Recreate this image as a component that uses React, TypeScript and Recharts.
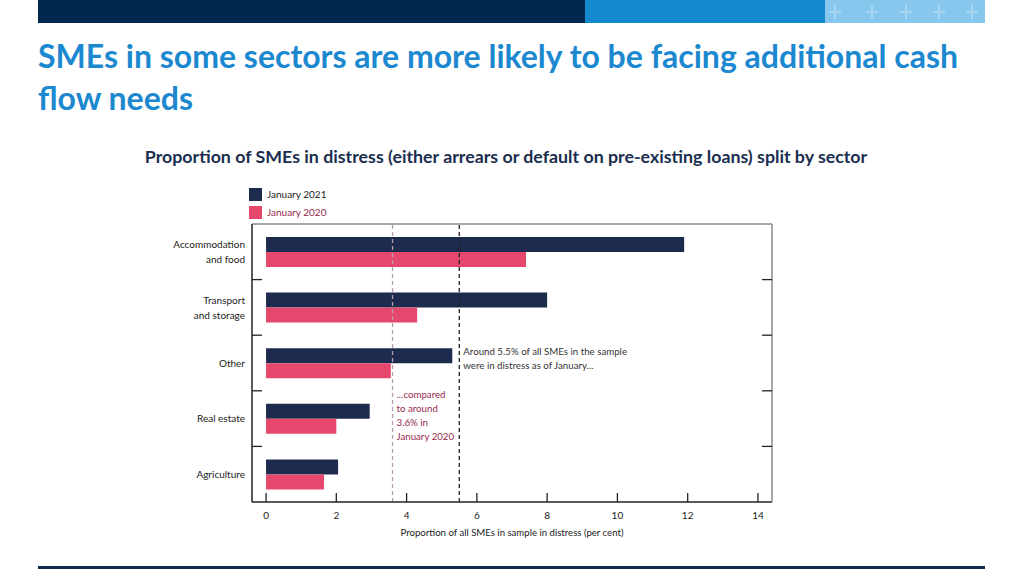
import React from "react";
import {
  BarChart, Bar, XAxis, YAxis, ReferenceLine,
} from "recharts";

// Sectors (top to bottom) and share of SMEs in distress, per cent
const SECTORS = ["Accommodation and food", "Transport and storage", "Other", "Real estate", "Agriculture"];
const JAN_2021 = [11.9, 8.0, 5.3, 2.95, 2.05];
const JAN_2020 = [7.4, 4.3, 3.55, 2.0, 1.65];
const X_TICKS = [0, 2, 4, 6, 8, 10, 12, 14];

const AVG_2021 = 5.5;
const AVG_2020 = 3.6;

const NAVY = "#1c2b4e";
const PINK = "#e5486c";
const MAROON = "#97294d";
const CHART_FONT = "Lato, 'Open Sans', sans-serif";

const data = SECTORS.map((sector, i) => ({
  sector,
  "January 2021": JAN_2021[i],
  "January 2020": JAN_2020[i],
}));

// category label (two lines for long names) + inward tick at the band boundary
function SectorTick({ x, y, payload }: any) {
  const words = String(payload.value).split(" ");
  const lines = words.length > 2 ? [words[0], words.slice(1).join(" ")] : [payload.value];
  const half = payload.offset || 0;
  return (
    <g>
      {payload.index > 0 && half > 0 && (
        <line x1={x} x2={x + 10} y1={y - half} y2={y - half} stroke="#222" strokeWidth={1.3} />
      )}
      <text x={x - 7} y={y} textAnchor="end" fontSize={10} fill="#222" fontFamily={CHART_FONT}>
        {lines.map((l, i) => (
          <tspan key={i} x={x - 7} dy={i === 0 ? (lines.length > 1 ? -3.5 : 3.5) : 15}>{l}</tspan>
        ))}
      </text>
    </g>
  );
}

function RightTick({ x, y, payload }: any) {
  const half = payload.offset || 0;
  if (payload.index === 0 || !half) return null;
  return <line x1={x - 10} x2={x} y1={y - half} y2={y - half} stroke="#222" strokeWidth={1.3} />;
}

function ValueTick({ x, y, payload }: any) {
  return (
    <g>
      <line x1={x} x2={x} y1={y - 9} y2={y} stroke="#222" strokeWidth={1.3} />
      <text x={x} y={y + 17} textAnchor="middle" fontSize={10} fill="#222" fontFamily={CHART_FONT}>
        {payload.value}
      </text>
    </g>
  );
}

function Annotation({ viewBox, lines, top, color }: any) {
  if (!viewBox) return null;
  return (
    <text x={viewBox.x + 4} y={viewBox.y + top} fontSize={9.7} fill={color} fontFamily={CHART_FONT}>
      {lines.map((l: string, i: number) => (
        <tspan key={i} x={viewBox.x + 4} dy={i === 0 ? 0 : 14}>{l}</tspan>
      ))}
    </text>
  );
}

function LegendBox() {
  const items = [
    { label: "January 2021", fill: NAVY, text: "#222" },
    { label: "January 2020", fill: PINK, text: MAROON },
  ];
  return (
    <div style={{ position: "absolute", left: 249, top: 185, fontFamily: CHART_FONT, fontSize: 10 }}>
      {items.map((it) => (
        <div key={it.label} style={{ display: "flex", alignItems: "center", height: 18 }}>
          <span style={{ width: 13, height: 13, background: it.fill, display: "inline-block", marginRight: 5 }} />
          <span style={{ color: it.text }}>{it.label}</span>
        </div>
      ))}
    </div>
  );
}

function Crosses() {
  const xs = [10, 47, 81, 114, 147];
  return (
    <svg width={160} height={23} style={{ position: "absolute", left: 0, top: 0 }}>
      {xs.map((cx) => (
        <g key={cx} stroke="#a8d5f2" strokeWidth={2}>
          <line x1={cx - 6} x2={cx + 6} y1={12} y2={12} />
          <line x1={cx} x2={cx} y1={5} y2={19} />
        </g>
      ))}
    </svg>
  );
}

export default function App() {
  return (
    <div style={{ position: "absolute", left: 0, top: 0, width: 1024, height: 576, background: "#fff", overflow: "hidden" }}>
      <div style={{ position: "absolute", left: 38, top: 0, width: 547, height: 23, background: "#00284f" }} />
      <div style={{ position: "absolute", left: 585, top: 0, width: 240, height: 23, background: "#1589cd" }} />
      <div style={{ position: "absolute", left: 825, top: 0, width: 160, height: 23, background: "#87c6ed" }}>
        <Crosses />
      </div>

      <div style={{
        position: "absolute", left: 38, top: 35, width: 980, fontFamily: "Lato, sans-serif",
        fontWeight: 700, fontSize: 32, lineHeight: "42px", color: "#1b88cf", whiteSpace: "nowrap",
      }}>
        SMEs in some sectors are more likely to be facing additional cash<br />flow needs
      </div>

      <div style={{
        position: "absolute", left: 0, top: 145, width: 1012, textAlign: "center", fontFamily: "Lato, sans-serif",
        fontWeight: 700, fontSize: 17.8, color: "#1a2e50", whiteSpace: "nowrap",
      }}>
        Proportion of SMEs in distress (either arrears or default on pre-existing loans) split by sector
      </div>

      <LegendBox />

      <div style={{ position: "absolute", left: 130, top: 180 }}>
        <BarChart
          width={700}
          height={370}
          data={data}
          layout="vertical"
          barSize={15}
          barGap={0}
          margin={{ top: 43, right: 57, bottom: 12, left: 0 }}
        >
          <XAxis
            type="number"
            domain={[-0.4, 14.4]}
            ticks={X_TICKS}
            allowDataOverflow
            height={36}
            tickLine={false}
            tickSize={0}
            tickMargin={0}
            tick={<ValueTick />}
            axisLine={{ stroke: "#222", strokeWidth: 1.5 }}
            label={{
              value: "Proportion of all SMEs in sample in distress (per cent)",
              position: "insideBottom",
              offset: 2,
              fontSize: 9.6,
              fill: "#222",
              fontFamily: CHART_FONT,
            }}
          />
          <XAxis
            xAxisId="top"
            orientation="top"
            type="number"
            domain={[-0.4, 14.4]}
            allowDataOverflow
            height={1}
            tick={false}
            tickLine={false}
            axisLine={{ stroke: "#8a8a8a", strokeWidth: 1.5 }}
          />
          <YAxis
            type="category"
            dataKey="sector"
            width={122}
            tickLine={false}
            tickSize={0}
            tickMargin={0}
            tick={<SectorTick />}
            axisLine={{ stroke: "#222", strokeWidth: 1.5 }}
            interval={0}
          />
          <YAxis
            yAxisId="r"
            orientation="right"
            type="category"
            dataKey="sector"
            width={1}
            tickLine={false}
            tickSize={0}
            tickMargin={0}
            tick={<RightTick />}
            axisLine={{ stroke: "#8a8a8a", strokeWidth: 1.5 }}
            interval={0}
          />
          <Bar dataKey="January 2021" fill={NAVY} isAnimationActive={false} />
          <Bar dataKey="January 2020" fill={PINK} isAnimationActive={false} />
          <ReferenceLine
            x={AVG_2020}
            stroke="#b49ea7"
            strokeWidth={1.3}
            strokeDasharray="4 3"
            label={<Annotation top={174} color={MAROON} lines={["...compared", "to around", "3.6% in", "January 2020"]} />}
          />
          <ReferenceLine
            x={AVG_2021}
            stroke="#222"
            strokeWidth={1.3}
            strokeDasharray="4 3"
            label={<Annotation top={131} color="#333" lines={["Around 5.5% of all SMEs in the sample", "were in distress as of January..."]} />}
          />
        </BarChart>
      </div>

      <div style={{ position: "absolute", left: 38, top: 566, width: 947, height: 3, background: "#0f2c4f" }} />
    </div>
  );
}
